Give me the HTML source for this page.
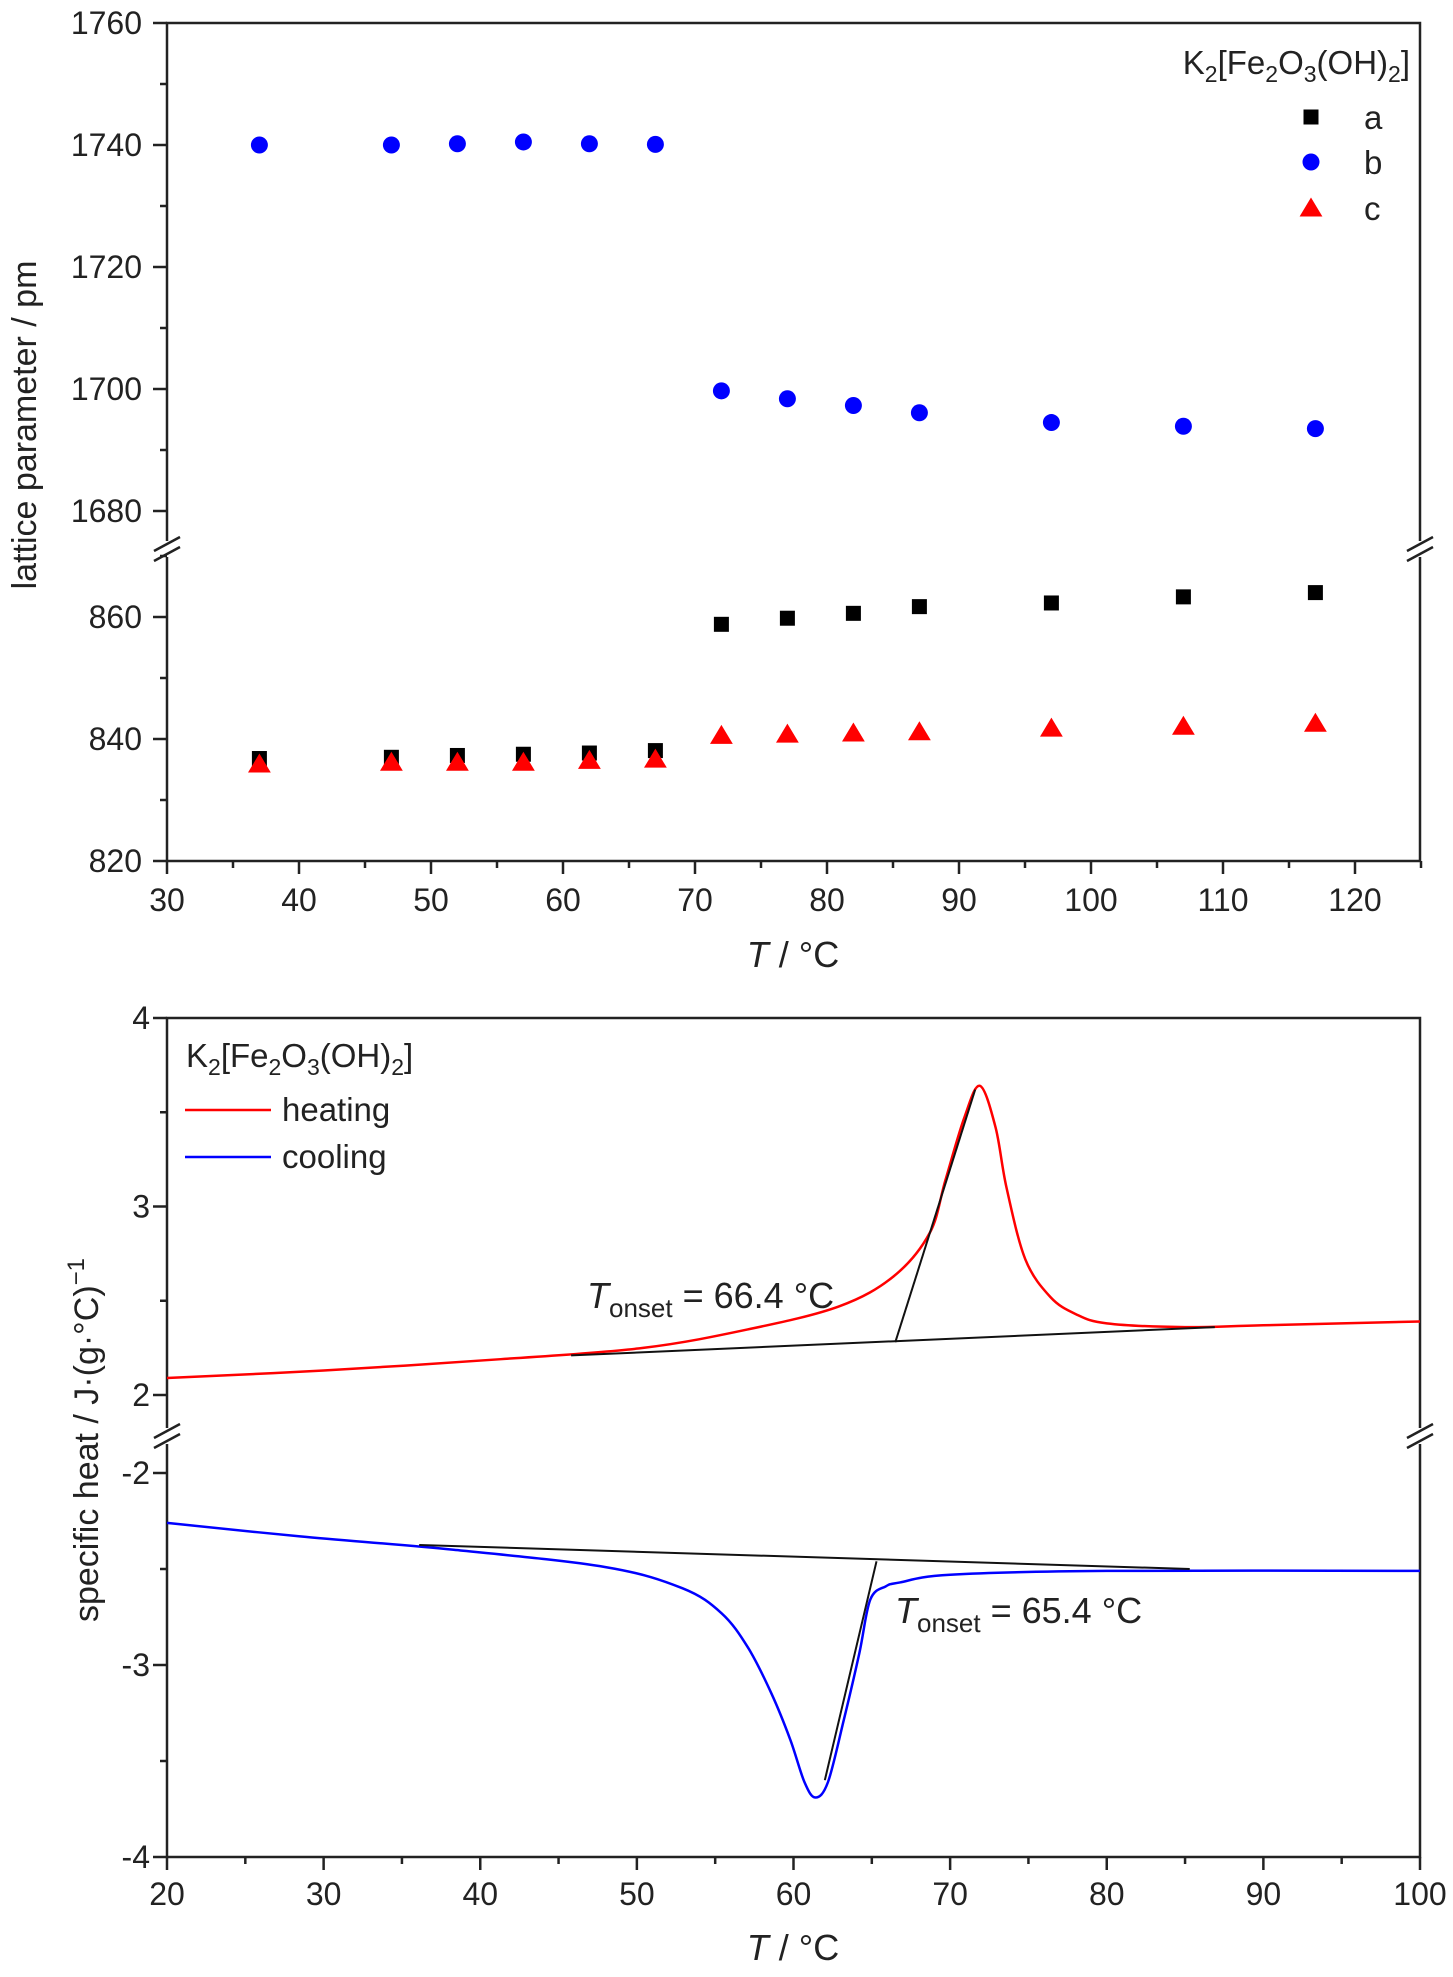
<!DOCTYPE html>
<html><head><meta charset="utf-8"><title>K2[Fe2O3(OH)2]</title>
<style>
html,body{margin:0;padding:0;background:#fff;}
svg{display:block;font-family:"Liberation Sans",Arial,sans-serif;}
</style></head>
<body>
<svg id="fig" width="1453" height="1977" viewBox="0 0 1453 1977" xmlns="http://www.w3.org/2000/svg">
  <g id="topChart"></g>
  <g id="botChart"></g>
</svg>
<script>
// ---- top chart data ----
const tempsTop = [37,47,52,57,62,67,72,77,82,87,97,107,117];
const seriesA = [836.8,837.0,837.3,837.5,837.7,838.1,858.8,859.8,860.6,861.7,862.3,863.3,864.0];
const seriesB = [1740.0,1740.0,1740.2,1740.5,1740.2,1740.1,1699.7,1698.4,1697.3,1696.1,1694.5,1693.9,1693.5];
const seriesC = [835.9,836.2,836.2,836.2,836.5,836.7,840.6,840.8,841.0,841.2,841.8,842.1,842.6];
const xTicksTop = [30,40,50,60,70,80,90,100,110,120];
const yTicksUpper = [1680,1700,1720,1740,1760];
const yTicksLower = [820,840,860];
// ---- bottom chart data ----
const heatT = [20,30,41.3,50.4,57.2,62.9,66.4,68.7,69.7,70.9,71.9,72.9,73.6,74.8,76.4,78,80,85,90,100];
const heatCp = [2.09,2.13,2.19,2.25,2.35,2.47,2.63,2.86,3.14,3.47,3.64,3.42,3.10,2.72,2.52,2.43,2.38,2.36,2.37,2.39];
const coolT = [20,28.5,38.3,48,52.9,55.4,57.1,58.6,59.8,60.7,61.4,62.2,63.2,64.2,64.9,65.9,66.8,70,80,100];
const coolCp = [-2.26,-2.33,-2.40,-2.49,-2.60,-2.73,-2.91,-3.15,-3.39,-3.61,-3.69,-3.61,-3.29,-2.94,-2.66,-2.59,-2.57,-2.53,-2.51,-2.51];
const heatBaseT = [45.8,86.9]; const heatBaseCp = [2.21,2.36];
const heatTanT = [66.5,71.6]; const heatTanCp = [2.28,3.62];
const coolBaseT = [36.1,85.3]; const coolBaseCp = [-2.375,-2.5];
const coolTanT = [65.3,62.0]; const coolTanCp = [-2.46,-3.6];
const xTicksBot = [20,30,40,50,60,70,80,90,100];
const yTicksBotUpper = [2,3,4];
const yTicksBotLower = [-4,-3,-2];

const NS='http://www.w3.org/2000/svg';
function mk(parent,tag,attrs,text){const el=document.createElementNS(NS,tag);for(const k in attrs)el.setAttribute(k,attrs[k]);if(text!==undefined)el.textContent=text;parent.appendChild(el);return el;}

// ---------- TOP ----------
const topG=document.getElementById('topChart');
const L=167,R=1420,T=23,B=861;
const xT=v=>L+(v-30)*13.2;
const yU=v=>23+(1760-v)*6.1;
const yL=v=>861-(v-820)*6.1;
const yTop=v=>v>1000?yU(v):yL(v);
let e;
e=mk(topG,'rect',{x:L,y:T,width:R-L,height:B-T,fill:'none',stroke:'#222','stroke-width':2.5});


mk(topG,'rect',{x:L-3,y:541,width:6,height:16,fill:'#fff'});
mk(topG,'rect',{x:R-3,y:541,width:6,height:16,fill:'#fff'});
[L,R].forEach(x=>{[-5,5].forEach(d=>{
  e=mk(topG,'line',{x1:x-13,y1:549+d+7,x2:x+13,y2:549+d-7,stroke:'#222','stroke-width':2.5});
  
  
});});
xTicksTop.forEach(v=>{
  mk(topG,'line',{x1:xT(v),y1:B,x2:xT(v),y2:B+13,stroke:'#222','stroke-width':2.5});
  mk(topG,'line',{x1:xT(v+5),y1:B,x2:xT(v+5),y2:B+7,stroke:'#222','stroke-width':2.5});
  e=mk(topG,'text',{x:xT(v),y:B+50,'font-size':32,'text-anchor':'middle',fill:'#222'},String(v));
  
  
});
yTicksUpper.forEach(v=>{
  mk(topG,'line',{x1:L-14,y1:yU(v),x2:L,y2:yU(v),stroke:'#222','stroke-width':2.5});
  if(v<1760) mk(topG,'line',{x1:L-7,y1:yU(v+10),x2:L,y2:yU(v+10),stroke:'#222','stroke-width':2.5});
  e=mk(topG,'text',{x:142,y:yU(v)+11,'font-size':32,'text-anchor':'end',fill:'#222'},String(v));
  
  
});
yTicksLower.forEach(v=>{
  mk(topG,'line',{x1:L-14,y1:yL(v),x2:L,y2:yL(v),stroke:'#222','stroke-width':2.5});
  mk(topG,'line',{x1:L-7,y1:yL(v+10),x2:L,y2:yL(v+10),stroke:'#222','stroke-width':2.5});
  e=mk(topG,'text',{x:142,y:yL(v)+11,'font-size':32,'text-anchor':'end',fill:'#222'},String(v));
  
  
});
e=mk(topG,'text',{x:0,y:0,'font-size':34,'text-anchor':'middle',fill:'#222',transform:'translate(36,425) rotate(-90)'},'lattice parameter / pm');


e=mk(topG,'text',{x:793,y:967,'font-size':36,'text-anchor':'middle',fill:'#222'});


e.innerHTML='<tspan font-style="italic">T</tspan> / °C';

function square(g,x,y,s,fill){return mk(g,'rect',{x:x-s/2,y:y-s/2,width:s,height:s,fill:fill});}
function circle(g,x,y,r,fill){return mk(g,'circle',{cx:x,cy:y,r:r,fill:fill});}
function tri(g,x,y,s,fill){return mk(g,'polygon',{points:`${x},${y-s*0.55} ${x-s*0.6},${y+s*0.45} ${x+s*0.6},${y+s*0.45}`,fill:fill});}
tempsTop.forEach((t,i)=>{
  e=square(topG,xT(t),yTop(seriesA[i]),15,'#000');
  
  
  e=circle(topG,xT(t),yTop(seriesB[i]),8.5,'#0000ff');
  
  
  e=tri(topG,xT(t),yTop(seriesC[i]),19,'#ff0000');
  
  
});
e=mk(topG,'text',{x:1410,y:74,'font-size':33,'text-anchor':'end',fill:'#222'});


e.innerHTML='K<tspan font-size="23" dy="8">2</tspan><tspan dy="-8">[Fe</tspan><tspan font-size="23" dy="8">2</tspan><tspan dy="-8">O</tspan><tspan font-size="23" dy="8">3</tspan><tspan dy="-8">(OH)</tspan><tspan font-size="23" dy="8">2</tspan><tspan dy="-8">]</tspan>';
[['a',117],['b',162],['c',208]].forEach(([n,y],i)=>{
  const g=mk(topG,'g',{});
  
  
  if(i===0)square(g,1311,y,15,'#000');else if(i===1)circle(g,1311,y,8.5,'#0000ff');else tri(g,1311,y,19,'#ff0000');
  mk(g,'text',{x:1364,y:y+12,'font-size':33,fill:'#222'},n);
});

// ---------- BOTTOM ----------
const botG=document.getElementById('botChart');
const L2=167,R2=1420,T2=1018,B2=1857;
const xB=v=>L2+(v-20)*(R2-L2)/80;
const yBU=v=>1018+(4-v)*188.5;
const yBL=v=>1857-(v+4)*192;
const yB=v=>v>0?yBU(v):yBL(v);
e=mk(botG,'rect',{x:L2,y:T2,width:R2-L2,height:B2-T2,fill:'none',stroke:'#222','stroke-width':2.5});


mk(botG,'rect',{x:L2-3,y:1428,width:6,height:16,fill:'#fff'});
mk(botG,'rect',{x:R2-3,y:1428,width:6,height:16,fill:'#fff'});
[L2,R2].forEach(x=>{[-5,5].forEach(d=>{
  e=mk(botG,'line',{x1:x-13,y1:1436+d+7,x2:x+13,y2:1436+d-7,stroke:'#222','stroke-width':2.5});
  
  
});});
xTicksBot.forEach(v=>{
  mk(botG,'line',{x1:xB(v),y1:B2,x2:xB(v),y2:B2+13,stroke:'#222','stroke-width':2.5});
  if(v<100) mk(botG,'line',{x1:xB(v+5),y1:B2,x2:xB(v+5),y2:B2+7,stroke:'#222','stroke-width':2.5});
  e=mk(botG,'text',{x:xB(v),y:1905,'font-size':32,'text-anchor':'middle',fill:'#222'},String(v));
  
  
});
yTicksBotUpper.forEach(v=>{
  mk(botG,'line',{x1:L2-14,y1:yBU(v),x2:L2,y2:yBU(v),stroke:'#222','stroke-width':2.5});
  if(v<4) mk(botG,'line',{x1:L2-7,y1:yBU(v+0.5),x2:L2,y2:yBU(v+0.5),stroke:'#222','stroke-width':2.5});
  e=mk(botG,'text',{x:150,y:yBU(v)+11,'font-size':32,'text-anchor':'end',fill:'#222'},String(v));
  
  
});
yTicksBotLower.forEach(v=>{
  mk(botG,'line',{x1:L2-14,y1:yBL(v),x2:L2,y2:yBL(v),stroke:'#222','stroke-width':2.5});
  if(v<-2) mk(botG,'line',{x1:L2-7,y1:yBL(v+0.5),x2:L2,y2:yBL(v+0.5),stroke:'#222','stroke-width':2.5});
  e=mk(botG,'text',{x:150,y:yBL(v)+11,'font-size':32,'text-anchor':'end',fill:'#222'},String(v));
  
  
});
e=mk(botG,'text',{x:0,y:0,'font-size':34,'text-anchor':'middle',fill:'#222',transform:'translate(98,1440) rotate(-90)'});


e.innerHTML='specific heat / J·(g·°C)<tspan font-size="24" dy="-14">−1</tspan>';
e=mk(botG,'text',{x:793,y:1960,'font-size':36,'text-anchor':'middle',fill:'#222'});


e.innerHTML='<tspan font-style="italic">T</tspan> / °C';

function smoothPath(xs,ys){
  const p=xs.map((x,i)=>[xB(x),yB(ys[i])]);
  let d=`M${p[0][0]},${p[0][1]}`;
  for(let i=0;i<p.length-1;i++){
    const p0=p[Math.max(0,i-1)],p1=p[i],p2=p[i+1],p3=p[Math.min(p.length-1,i+2)];
    const c1=[p1[0]+(p2[0]-p0[0])/6,p1[1]+(p2[1]-p0[1])/6];
    const c2=[p2[0]-(p3[0]-p1[0])/6,p2[1]-(p3[1]-p1[1])/6];
    d+=` C${c1[0]},${c1[1]} ${c2[0]},${c2[1]} ${p2[0]},${p2[1]}`;
  }
  return d;
}
e=mk(botG,'path',{d:smoothPath(heatT,heatCp),fill:'none',stroke:'#ff0000','stroke-width':2.5});


e=mk(botG,'path',{d:smoothPath(coolT,coolCp),fill:'none',stroke:'#0000ff','stroke-width':2.5});


[[heatBaseT,heatBaseCp,'heating-baseline'],[heatTanT,heatTanCp,'heating-tangent'],[coolBaseT,coolBaseCp,'cooling-baseline'],[coolTanT,coolTanCp,'cooling-tangent']].forEach(([xs,ys,n])=>{
  e=mk(botG,'line',{x1:xB(xs[0]),y1:yB(ys[0]),x2:xB(xs[1]),y2:yB(ys[1]),stroke:'#111','stroke-width':2});
  
  
});
e=mk(botG,'text',{x:587,y:1308,'font-size':36,fill:'#222'});


e.innerHTML='<tspan font-style="italic">T</tspan><tspan font-size="26" dy="9">onset</tspan><tspan dy="-9"> = 66.4 °C</tspan>';
e=mk(botG,'text',{x:895,y:1623,'font-size':36,fill:'#222'});


e.innerHTML='<tspan font-style="italic">T</tspan><tspan font-size="26" dy="9">onset</tspan><tspan dy="-9"> = 65.4 °C</tspan>';
e=mk(botG,'text',{x:186,y:1067,'font-size':33,fill:'#222'});


e.innerHTML='K<tspan font-size="23" dy="8">2</tspan><tspan dy="-8">[Fe</tspan><tspan font-size="23" dy="8">2</tspan><tspan dy="-8">O</tspan><tspan font-size="23" dy="8">3</tspan><tspan dy="-8">(OH)</tspan><tspan font-size="23" dy="8">2</tspan><tspan dy="-8">]</tspan>';
[['heating','#ff0000',1110],['cooling','#0000ff',1157]].forEach(([n,c,y])=>{
  const g=mk(botG,'g',{});
  
  
  mk(g,'line',{x1:185,y1:y,x2:271,y2:y,stroke:c,'stroke-width':2.5});
  mk(g,'text',{x:282,y:y+11,'font-size':33,fill:'#222'},n);
});
</script>
</body></html>
